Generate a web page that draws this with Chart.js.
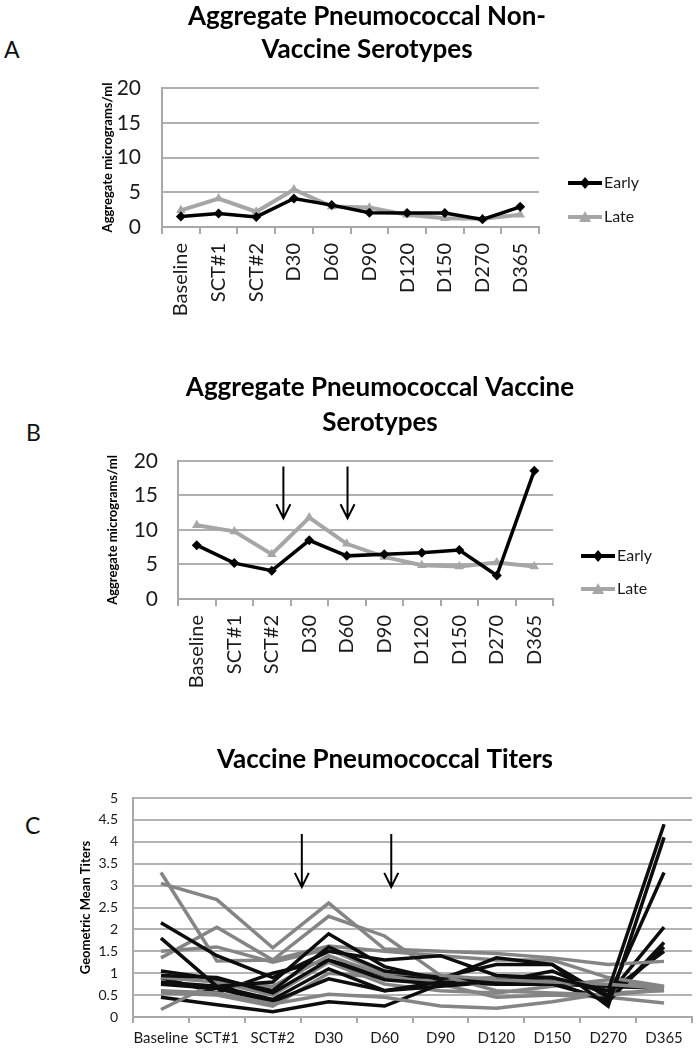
<!DOCTYPE html>
<html>
<head>
<meta charset="utf-8">
<script src="https://cdn.jsdelivr.net/npm/chart.js@4.4.1/dist/chart.umd.min.js"></script>
<style>
body { margin: 0; background: #fff; }
#page { position: relative; width: 699px; height: 1050px; overflow: hidden; font-family: Lato, "Liberation Sans", sans-serif; }
canvas { position: absolute; }
.tag { position: absolute; font-size: 23px; line-height: 23px; color: #111; }
</style>
</head>
<body>
<div id="page">
  <div class="tag" style="left:4px;top:38px">A</div>
  <div class="tag" style="left:26px;top:421px">B</div>
  <div class="tag" style="left:25px;top:814px">C</div>
  <canvas id="chartA" width="614" height="327" style="left:85px;top:0px"></canvas>
  <canvas id="chartB" width="601" height="329" style="left:98px;top:370px"></canvas>
  <canvas id="chartC" width="621" height="320" style="left:78px;top:730px"></canvas>
</div>
<script>
// Time points
const categories = ["Baseline", "SCT#1", "SCT#2", "D30", "D60", "D90", "D120", "D150", "D270", "D365"];

// A - non vaccine serotypes
const nonVaccineEarly = [1.5, 1.95, 1.45, 4.1, 3.15, 2.05, 2.0, 2.0, 1.1, 2.9];
const nonVaccineLate = [2.4, 4.1, 2.2, 5.4, 2.95, 2.8, 1.75, 1.25, 1.2, 1.75];

// B - vaccine serotypes
const vaccineEarly = [7.8, 5.2, 4.1, 8.5, 6.25, 6.5, 6.7, 7.1, 3.4, 18.6];
const vaccineLate = [10.7, 9.8, 6.5, 11.8, 8.0, 6.1, 4.9, 4.7, 5.3, 4.7];

// C - titers per serotype
const titersBlack = [
    [2.15, 1.4, 0.9, 1.5, 1.3, 1.4, 0.95, 0.9, 0.6, 4.4],
    [1.8, 0.7, 0.8, 1.9, 1.15, 0.85, 1.35, 1.2, 0.25, 4.1],
    [1.05, 0.87, 0.6, 1.6, 1.05, 0.9, 1.2, 1.2, 0.45, 3.3],
    [0.95, 0.9, 0.55, 1.3, 0.85, 0.75, 0.8, 1.05, 0.5, 2.05],
    [0.8, 0.7, 0.4, 1.1, 0.6, 0.7, 0.8, 0.8, 0.35, 1.7],
    [0.75, 0.65, 0.35, 0.87, 0.6, 0.8, 0.75, 0.75, 0.4, 1.6],
    [0.45, 0.28, 0.12, 0.35, 0.25, 0.75, 0.85, 0.9, 0.55, 1.5],
    [0.9, 0.55, 1.0, 1.3, 0.95, 0.9, 0.8, 0.75, 0.7, 0.65]
];
const titersGray = [
    [3.3, 1.28, 1.3, 2.3, 1.85, 0.95, 0.85, 0.8, 0.75, 0.65],
    [3.05, 2.68, 1.58, 2.6, 1.55, 1.5, 1.45, 1.35, 1.2, 1.27],
    [1.35, 2.05, 1.3, 1.62, 1.5, 1.4, 1.3, 1.3, 0.9, 0.7],
    [1.5, 1.6, 1.25, 1.55, 1.0, 0.95, 0.6, 0.55, 0.5, 0.62],
    [0.6, 0.55, 0.3, 0.52, 0.45, 0.25, 0.2, 0.35, 0.55, 0.6],
    [0.17, 0.8, 0.7, 1.4, 0.95, 0.75, 0.45, 0.5, 0.45, 0.32],
    [0.9, 0.8, 0.5, 1.25, 0.75, 0.6, 0.55, 0.7, 0.85, 0.68],
    [0.55, 0.5, 0.25, 1.0, 0.9, 0.85, 0.9, 0.85, 0.7, 0.66]
];

// vaccination arrows (category index, value range)
const arrowsB = [{ at: 2.31, from: 19.2, to: 11.7 }, { at: 4.02, from: 19.2, to: 11.7 }];
const arrowsC = [{ at: 2.52, from: 4.18, to: 2.97 }, { at: 4.12, from: 4.18, to: 2.97 }];

Chart.defaults.font.family = 'Lato, "Liberation Sans", sans-serif';
Chart.defaults.color = '#1a1a1a';
Chart.defaults.animation = false;

const AXIS_GRAY = '#a8a8a8';

// down arrows drawn on top of the lines
const arrowPlugin = {
    id: 'arrows',
    afterDatasetsDraw(chart, args, opts) {
        const { ctx, scales: { x, y } } = chart;
        ctx.save();
        ctx.strokeStyle = '#000';
        ctx.lineWidth = 2;
        (opts.list || []).forEach(a => {
            const px = x.getPixelForValue(a.at);
            const y1 = y.getPixelForValue(a.from);
            const y2 = y.getPixelForValue(a.to);
            ctx.beginPath();
            ctx.moveTo(px, y1);
            ctx.lineTo(px, y2);
            ctx.moveTo(px - 7, y2 - 14);
            ctx.lineTo(px, y2);
            ctx.lineTo(px + 7, y2 - 14);
            ctx.stroke();
        });
        ctx.restore();
    }
};

// line + marker sample for the legend
function legendIcon(color, shape) {
    const c = document.createElement('canvas');
    c.width = 51;
    c.height = 14;
    const g = c.getContext('2d');
    g.strokeStyle = color;
    g.fillStyle = color;
    g.lineWidth = 4;
    g.beginPath();
    g.moveTo(17, 7);
    g.lineTo(51, 7);
    g.stroke();
    const cx = 34;
    g.beginPath();
    if (shape === 'diamond') {
        g.moveTo(cx, 1); g.lineTo(cx + 5, 7); g.lineTo(cx, 13); g.lineTo(cx - 5, 7);
    } else {
        g.moveTo(cx, 1); g.lineTo(cx + 6, 12); g.lineTo(cx - 6, 12);
    }
    g.closePath();
    g.fill();
    return c;
}

function aggregateChart(id, titleLines, early, late, cfg) {
    return new Chart(document.getElementById(id), {
        type: 'line',
        data: {
            labels: categories,
            datasets: [
                {
                    label: 'Early', data: early, borderColor: '#000', backgroundColor: '#000',
                    borderWidth: 3.5, pointStyle: 'rectRot', pointRadius: 5, pointBorderWidth: 0,
                    tension: 0, icon: legendIcon('#000', 'diamond')
                },
                {
                    label: 'Late', data: late, borderColor: '#a6a6a6', backgroundColor: '#a6a6a6',
                    borderWidth: 4, pointStyle: 'triangle', pointRadius: 5.5, pointBorderWidth: 0,
                    tension: 0, icon: legendIcon('#a6a6a6', 'triangle')
                }
            ]
        },
        options: {
            responsive: false,
            devicePixelRatio: 1,
            layout: { padding: { left: 0, right: cfg.padRight, top: 0, bottom: 0 } },
            plugins: {
                title: {
                    display: true, text: titleLines, color: '#000',
                    font: { size: 26, weight: 'bold', lineHeight: cfg.titleLine },
                    padding: { top: 0, bottom: cfg.titleGap }
                },
                legend: {
                    position: 'right', align: 'start',
                    title: { display: true, text: ' ', font: { size: 10 }, padding: { top: cfg.legendTop, bottom: 0 } },
                    labels: {
                        usePointStyle: true, pointStyleWidth: 39, padding: cfg.legendPad,
                        font: { size: 16 }, color: '#1a1a1a',
                        generateLabels: chart => chart.data.datasets.map((ds, i) => ({
                            text: ds.label, pointStyle: ds.icon, datasetIndex: i, hidden: false,
                            lineWidth: 0, fillStyle: ds.borderColor, strokeStyle: ds.borderColor, fontColor: '#1a1a1a'
                        }))
                    }
                },
                tooltip: { enabled: false },
                arrows: { list: cfg.arrows || [] }
            },
            scales: {
                x: {
                    offset: true,
                    grid: { offset: true, drawOnChartArea: false, drawTicks: true, tickLength: 7, color: AXIS_GRAY, lineWidth: 2 },
                    border: { color: AXIS_GRAY, width: 2 },
                    ticks: { autoSkip: false, minRotation: 90, maxRotation: 90, font: { size: 20 }, padding: 9, color: '#1a1a1a' },
                    afterFit: s => { s.height = 100; }
                },
                y: {
                    min: 0, max: 20,
                    ticks: { stepSize: 5, font: { size: 21 }, padding: cfg.tickPad, color: '#1a1a1a' },
                    grid: { drawTicks: false, color: '#b0b0b0', lineWidth: 2 },
                    border: { color: AXIS_GRAY, width: 2 },
                    title: {
                        display: true, text: 'Aggregate micrograms/ml', color: '#000',
                        font: { size: 13, weight: 'bold' }, padding: { top: cfg.yTitlePad, bottom: 0 }
                    },
                    afterFit: s => { s.width = cfg.yWidth; }
                }
            }
        },
        plugins: [arrowPlugin]
    });
}

aggregateChart('chartA', ['Aggregate Pneumococcal Non-', 'Vaccine Serotypes'], nonVaccineEarly, nonVaccineLate, {
    padRight: 50, titleLine: 1.27, titleGap: 22, legendTop: 145, legendPad: 18,
    tickPad: 21, yTitlePad: 15, yWidth: 77
});

aggregateChart('chartB', ['Aggregate Pneumococcal Vaccine', 'Serotypes'], vaccineEarly, vaccineLate, {
    padRight: 37, titleLine: 1.346, titleGap: 21, legendTop: 149, legendPad: 17,
    tickPad: 20, yTitlePad: 7, yWidth: 80, arrows: arrowsB
});

// Panel C
const titerSets = [];
titersBlack.forEach((row, i) => {
    titerSets.push({ data: row, borderColor: '#0d0d0d', borderWidth: 3.5, pointRadius: 0, tension: 0 });
    titerSets.push({ data: titersGray[i], borderColor: '#858585', borderWidth: 3.5, pointRadius: 0, tension: 0 });
});

new Chart(document.getElementById('chartC'), {
    type: 'line',
    data: { labels: categories, datasets: titerSets },
    options: {
        responsive: false,
        devicePixelRatio: 1,
        layout: { padding: { left: 0, right: 7, top: 0, bottom: 0 } },
        plugins: {
            title: {
                display: true, text: 'Vaccine Pneumococcal Titers', color: '#000',
                font: { size: 26, weight: 'bold', lineHeight: 1.2 },
                padding: { top: 14.4, bottom: 22.4 }
            },
            legend: { display: false },
            tooltip: { enabled: false },
            arrows: { list: arrowsC }
        },
        scales: {
            x: {
                offset: true,
                grid: { offset: true, drawOnChartArea: false, drawTicks: true, tickLength: 6, color: AXIS_GRAY, lineWidth: 2 },
                border: { color: AXIS_GRAY, width: 2 },
                ticks: { autoSkip: false, minRotation: 0, maxRotation: 0, font: { size: 15 }, padding: 6, color: '#1a1a1a' },
                afterFit: s => { s.height = 33; }
            },
            y: {
                min: 0, max: 5,
                ticks: { stepSize: 0.5, font: { size: 14 }, padding: 15, color: '#1a1a1a', callback: v => String(v) },
                grid: { drawTicks: false, color: '#b4b4b4', lineWidth: 2 },
                border: { color: AXIS_GRAY, width: 2 },
                title: {
                    display: true, text: 'Geometric Mean Titers', color: '#000',
                    font: { size: 13, weight: 'bold' }, padding: { top: 0, bottom: 0 }
                },
                afterFit: s => { s.width = 55; }
            }
        }
    },
    plugins: [arrowPlugin]
});
</script>
</body>
</html>
